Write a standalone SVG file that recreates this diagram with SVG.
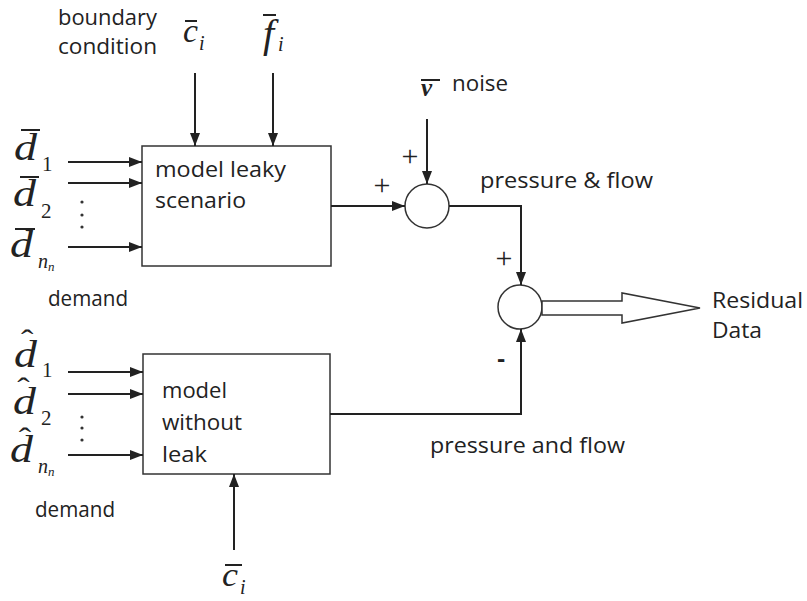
<svg xmlns="http://www.w3.org/2000/svg" width="807" height="601" viewBox="0 0 807 601">
<defs>
<style>
.ln{stroke:#222;stroke-width:2;fill:none}
.box{stroke:#333;stroke-width:1.5;fill:#fff}
.t{font-family:"Open Sans","Liberation Sans",sans-serif;font-size:22px;fill:#222}
.m{font-family:"Liberation Serif","Times New Roman",serif;font-style:italic;fill:#222}
.d{font-size:37px}
.s{font-size:21px;font-style:normal}
.sn{font-size:20px}
.ss{font-size:13px}
.bar{stroke:#222;stroke-width:2}
.op{font-family:"Liberation Serif",serif;font-size:30px;fill:#222;text-anchor:middle}
.hat{font-size:30px;font-style:normal}
</style>
<marker id="ah" markerUnits="userSpaceOnUse" markerWidth="13" markerHeight="10" refX="13" refY="5" orient="auto">
<path d="M0,0 L13,5 L0,10 z" fill="#222"/>
</marker>
</defs>
<rect width="807" height="601" fill="#fff"/>

<g id="labels-top">
<text class="t" x="58" y="25" textLength="99" lengthAdjust="spacingAndGlyphs">boundary</text>
<text class="t" x="58" y="54" textLength="99" lengthAdjust="spacingAndGlyphs">condition</text>
</g>

<g id="c-top">
<line class="bar" x1="185" y1="21" x2="197" y2="21"/>
<text class="m" x="183" y="42" font-size="33" textLength="15" lengthAdjust="spacingAndGlyphs">c</text>
<text class="m" x="199" y="50" font-size="20">i</text>
</g>
<g id="f-top">
<line class="bar" x1="263" y1="15" x2="276" y2="15"/>
<text class="m" x="263" y="47" font-size="40">f</text>
<text class="m" x="278" y="51" font-size="20">i</text>
</g>

<g id="d-leaky">
<line class="bar" x1="21" y1="130" x2="40" y2="130"/>
<text class="m d" x="14" y="160" textLength="23" lengthAdjust="spacingAndGlyphs">d</text><text class="m s" x="42" y="171">1</text>
<line class="bar" x1="20" y1="177" x2="39" y2="177"/>
<text class="m d" x="13" y="206" textLength="23" lengthAdjust="spacingAndGlyphs">d</text><text class="m s" x="41" y="218">2</text>
<circle cx="82" cy="202" r="1.6" fill="#333"/>
<circle cx="82" cy="215" r="1.6" fill="#333"/>
<circle cx="82" cy="227" r="1.6" fill="#333"/>
<line class="bar" x1="15" y1="229" x2="35" y2="229"/>
<text class="m d" x="10" y="257" textLength="23" lengthAdjust="spacingAndGlyphs">d</text><text class="m sn" x="38" y="268">n</text><text class="m ss" x="48" y="271">n</text>
<text class="t" x="48" y="306" textLength="80" lengthAdjust="spacingAndGlyphs">demand</text>
</g>

<g id="d-noleak">
<text class="m d" transform="translate(14 0) scale(1.24 1)"><tspan class="hat" x="5.6" y="350">ˆ</tspan><tspan x="0" y="367">d</tspan></text><text class="m s" x="42" y="377">1</text>
<text class="m d" transform="translate(13 0) scale(1.24 1)"><tspan class="hat" x="3.5" y="398">ˆ</tspan><tspan x="0" y="414">d</tspan></text><text class="m s" x="41" y="425">2</text>
<circle cx="82" cy="417" r="1.6" fill="#333"/>
<circle cx="82" cy="428" r="1.6" fill="#333"/>
<circle cx="82" cy="440" r="1.6" fill="#333"/>
<text class="m d" transform="translate(10 0) scale(1.24 1)"><tspan class="hat" x="7" y="448">ˆ</tspan><tspan x="0" y="462">d</tspan></text><text class="m sn" x="38" y="473">n</text><text class="m ss" x="48" y="476">n</text>
<text class="t" x="35" y="517" textLength="80" lengthAdjust="spacingAndGlyphs">demand</text>
</g>

<g id="model-leaky">
<rect class="box" x="142" y="146" width="189" height="120"/>
<text class="t" x="155" y="177" textLength="131" lengthAdjust="spacingAndGlyphs">model leaky</text>
<text class="t" x="155" y="208" textLength="91" lengthAdjust="spacingAndGlyphs">scenario</text>
</g>

<g id="model-noleak">
<rect class="box" x="143" y="354" width="187" height="120"/>
<text class="t" x="162" y="398" textLength="65" lengthAdjust="spacingAndGlyphs">model</text>
<text class="t" x="162" y="430" textLength="80" lengthAdjust="spacingAndGlyphs">without</text>
<text class="t" x="162" y="462" textLength="45" lengthAdjust="spacingAndGlyphs">leak</text>
</g>

<g id="c-bottom">
<line class="bar" x1="225" y1="565" x2="242" y2="565"/>
<text class="m" x="222" y="586" font-size="33" textLength="16" lengthAdjust="spacingAndGlyphs">c</text>
<text class="m" x="240" y="594" font-size="20">i</text>
</g>

<g id="sum1">
<circle cx="427" cy="206" r="22" fill="#fff" stroke="#333" stroke-width="1.5"/>
</g>
<g id="noise">
<line class="bar" x1="421" y1="80" x2="440" y2="80" stroke-width="2.5"/>
<text x="421" y="96" font-family="Liberation Serif,serif" font-weight="bold" font-style="italic" font-size="25" fill="#222">v</text>
<text class="t" x="452" y="91" textLength="56" lengthAdjust="spacingAndGlyphs">noise</text>
</g>
<g id="sum2">
<circle cx="520" cy="307" r="22" fill="#fff" stroke="#333" stroke-width="1.5"/>
</g>
<g id="residual">
<text class="t" x="712" y="308" textLength="91" lengthAdjust="spacingAndGlyphs">Residual</text>
<text class="t" x="712" y="338" textLength="50" lengthAdjust="spacingAndGlyphs">Data</text>
</g>

<g id="connectors">
<line class="ln" x1="68" y1="162" x2="142" y2="162" marker-end="url(#ah)"/>
<line class="ln" x1="68" y1="183" x2="142" y2="183" marker-end="url(#ah)"/>
<line class="ln" x1="68" y1="247" x2="142" y2="247" marker-end="url(#ah)"/>
<line class="ln" x1="68" y1="372" x2="143" y2="372" marker-end="url(#ah)"/>
<line class="ln" x1="68" y1="394" x2="143" y2="394" marker-end="url(#ah)"/>
<line class="ln" x1="68" y1="455" x2="143" y2="455" marker-end="url(#ah)"/>
<line class="ln" x1="195" y1="73" x2="195" y2="146" marker-end="url(#ah)"/>
<line class="ln" x1="273" y1="73" x2="273" y2="146" marker-end="url(#ah)"/>
<line class="ln" x1="234" y1="550" x2="234" y2="474" marker-end="url(#ah)"/>
<line class="ln" x1="331" y1="206" x2="405" y2="206" marker-end="url(#ah)"/>
<line class="ln" x1="427" y1="119" x2="427" y2="184" marker-end="url(#ah)"/>
<path class="ln" d="M449,206 H521 V285" marker-end="url(#ah)"/>
<path class="ln" d="M330,414 H521 V329" marker-end="url(#ah)"/>
<polygon points="542,301 622,301 622,293 700,308 622,323 622,315 542,315" fill="#fff" stroke="#333" stroke-width="1.5"/>
<text class="op" x="410" y="166">+</text>
<text class="op" x="382" y="195">+</text>
<text class="op" x="504" y="268">+</text>
<text x="501" y="367" font-family="Open Sans,sans-serif" font-weight="bold" font-size="24" fill="#222" text-anchor="middle">-</text>
<text class="t" x="480" y="188" textLength="173" lengthAdjust="spacingAndGlyphs">pressure &amp; flow</text>
<text class="t" x="430" y="453" textLength="195" lengthAdjust="spacingAndGlyphs">pressure and flow</text>
</g>
</svg>
